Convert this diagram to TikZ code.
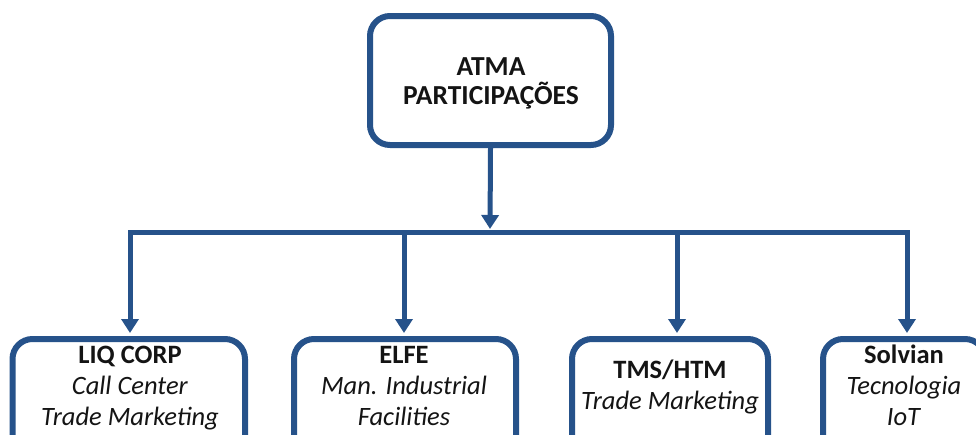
\documentclass[tikz,border=0pt]{standalone}
\usepackage{fontspec}
\setmainfont{Carlito}
\usetikzlibrary{arrows.meta}
\definecolor{frame}{RGB}{38,82,138}
\definecolor{ink}{RGB}{20,20,20}
\begin{document}
\begin{tikzpicture}[x=1pt,y=-1pt,
  box/.style={draw=frame, line width=6pt, rounded corners=20pt, fill=white, inner sep=0pt},
  lbl/.style={text=ink, align=center, inner sep=0pt, anchor=north, font=\fontsize{26.5}{31}\selectfont},
  conn/.style={draw=frame, line width=5pt},
  arr/.style={conn, -{Triangle[width=17pt,length=14pt]}, shorten >=3pt}]
\useasboundingbox (0,0) rectangle (976,434);
\clip (0,0) rectangle (976,434);
% top box
\node[box, minimum width=241pt, minimum height=129pt] (top) at (490.5,80.5) {};
\node[text=ink, align=center, inner sep=0pt, anchor=north,
      font=\bfseries\fontsize{27.5}{29}\selectfont] (topt) at (491,53) {\rule{0pt}{22pt}ATMA\\PARTICIPAÇÕES};
% bottom boxes
\node[box, anchor=north, minimum width=232.5pt, minimum height=160pt] (liq) at (128.75,336) {};
\node[box, anchor=north, minimum width=222pt, minimum height=160pt] (elfe) at (405,336) {};
\node[box, anchor=north, minimum width=196pt, minimum height=160pt] (tms) at (670,336) {};
\node[box, anchor=north, minimum width=162pt, minimum height=160pt] (solv) at (904,336) {};
% labels
\node[lbl] (liqt) at (130,341) {\rule{0pt}{22pt}\textbf{LIQ CORP}\\\textit{Call Center}\\\textit{Trade Marketing}};
\node[lbl] (elfet) at (404,341) {\rule{0pt}{22pt}\textbf{ELFE}\\\textit{Man. Industrial}\\\textit{Facilities}};
\node[lbl] (tmst) at (670,356) {\rule{0pt}{22pt}\textbf{TMS/HTM}\\\textit{Trade Marketing}};
\node[lbl] (solvt) at (904,341) {\rule{0pt}{22pt}\textbf{Solvian}\\\textit{Tecnologia}\\\textit{IoT}};
% bus
\coordinate (bus) at (490,232);
\coordinate (b1) at (130,232);
\coordinate (b2) at (404,232);
\coordinate (b3) at (677,232);
\coordinate (b4) at (907,232);
\draw[conn, line cap=rect] (b1) -- (b4);
\draw[arr] (top.south) -- (bus);
\draw[arr] (b1) -- (b1 |- liq.north);
\draw[arr] (b2) -- (b2 |- elfe.north);
\draw[arr] (b3) -- (b3 |- tms.north);
\draw[arr] (b4) -- (b4 |- solv.north);
\end{tikzpicture}
\end{document}
